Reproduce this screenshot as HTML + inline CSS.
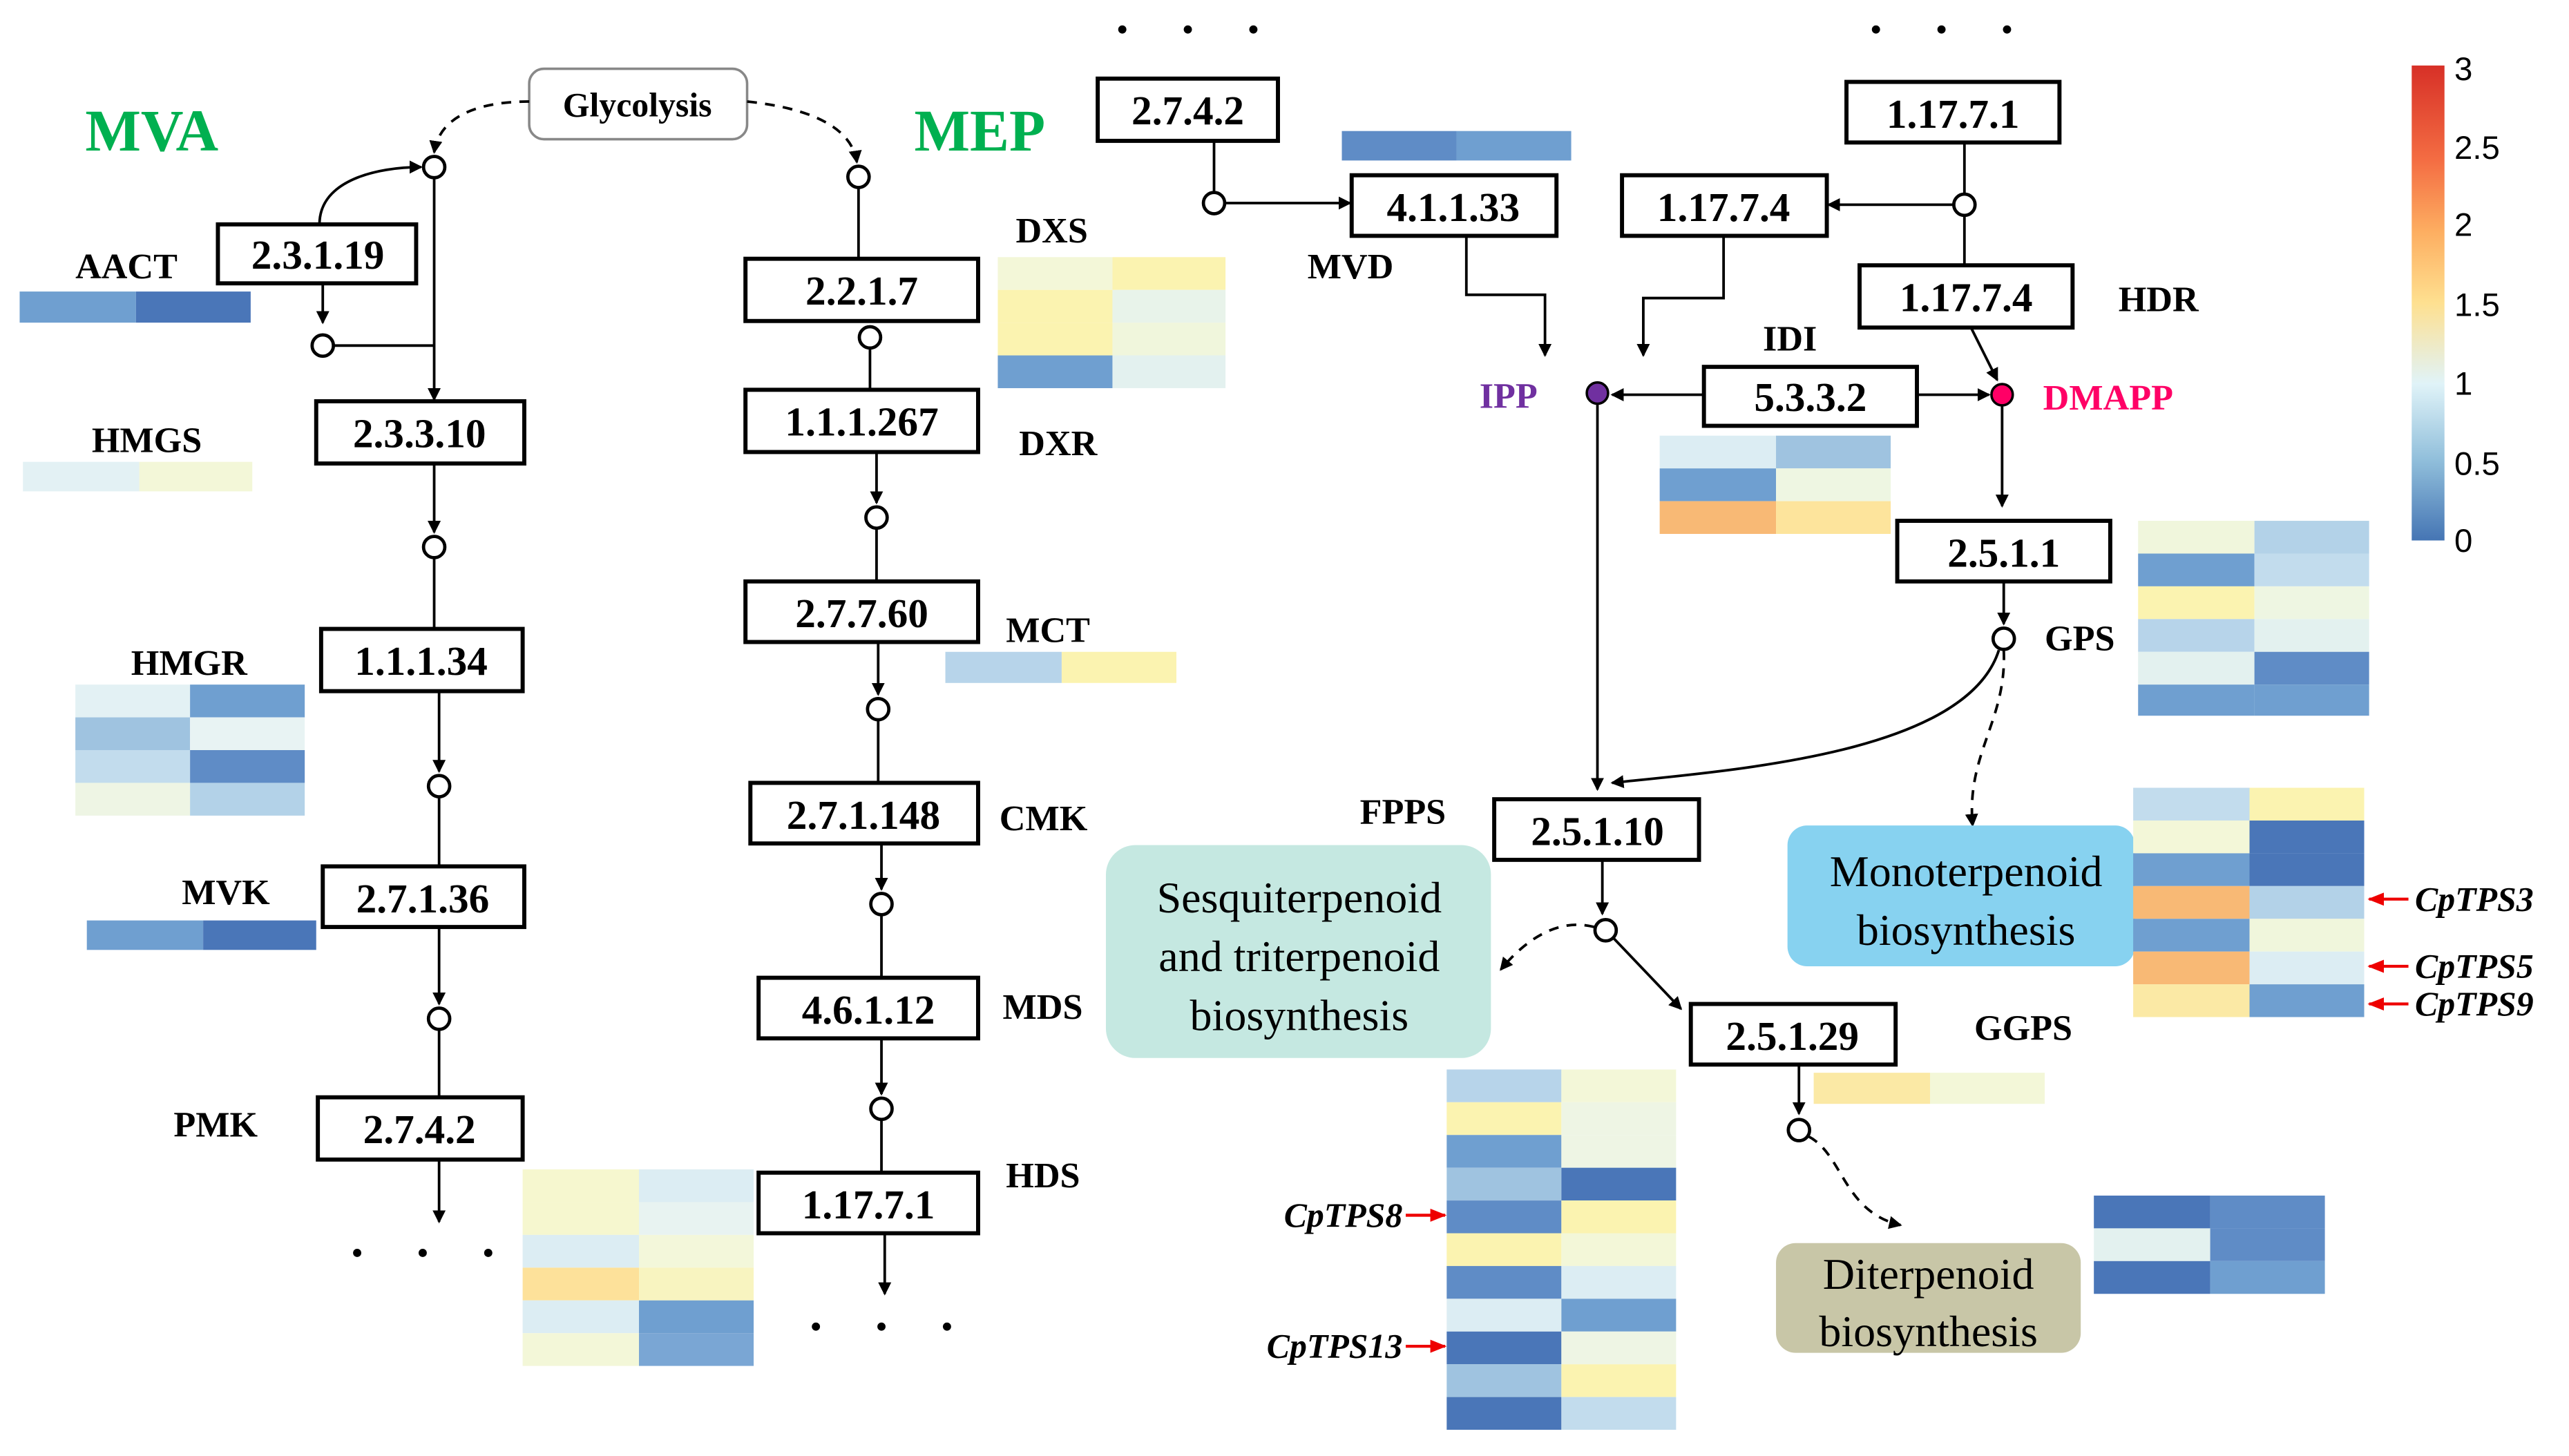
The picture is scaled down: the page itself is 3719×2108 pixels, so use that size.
<!DOCTYPE html>
<html><head><meta charset="utf-8"><style>
html,body{margin:0;padding:0;background:#fff}
svg{display:block}
text{font-family:"Liberation Serif",serif}
.b{fill:#fff;stroke:#000;stroke-width:2.5}
.bt{font-size:25px;font-weight:bold;text-anchor:middle}
.lb{font-size:22px;font-weight:bold}
.ln{stroke:#000;stroke-width:1.6;fill:none}
.ds{stroke:#000;stroke-width:1.6;fill:none;stroke-dasharray:6 5}
.c{fill:#fff;stroke:#000;stroke-width:2}
.tp{font-size:21px;font-weight:bold;font-style:italic}
.big{font-size:27px;text-anchor:middle}
</style></head><body>
<svg width="3719" height="2108" viewBox="0 0 1568 889" preserveAspectRatio="none" xmlns="http://www.w3.org/2000/svg">
<defs>
<marker id="a" markerWidth="8" markerHeight="8" refX="7" refY="4" orient="auto" markerUnits="userSpaceOnUse"><path d="M0,0 L8,4 L0,8 z" fill="#000"/></marker>
<marker id="r" markerWidth="10" markerHeight="8" refX="9" refY="4" orient="auto" markerUnits="userSpaceOnUse"><path d="M0,0 L10,4 L0,8 z" fill="#e00"/></marker>
<linearGradient id="g" x1="0" y1="0" x2="0" y2="1">
<stop offset="0" stop-color="#d73027"/><stop offset="0.2" stop-color="#f46d43"/><stop offset="0.35" stop-color="#fdae61"/><stop offset="0.5" stop-color="#fee090"/><stop offset="0.67" stop-color="#e0f3f8"/><stop offset="0.83" stop-color="#91bfdb"/><stop offset="1" stop-color="#4575b4"/></linearGradient>
</defs>
<text x="52" y="92" font-size="36" font-weight="bold" fill="#00b050">MVA</text>
<text x="558" y="92" font-size="36" font-weight="bold" fill="#00b050">MEP</text>
<rect x="323" y="42" width="133" height="43" rx="9" fill="#fff" stroke="#888" stroke-width="1.5"/>
<text x="389" y="71" font-size="21" font-weight="bold" text-anchor="middle">Glycolysis</text>
<path class="ds" d="M323,62 C290,62 268,72 265,93" marker-end="url(#a)"/>
<path class="ds" d="M456,62 C495,66 520,78 523,99" marker-end="url(#a)"/>

<circle class="c" cx="265" cy="102" r="6.5"/>
<path class="ln" d="M195,137 C195,110 230,102 257,102" marker-end="url(#a)"/>
<rect class="b" x="133" y="137" width="121" height="36"/><text class="bt" x="194" y="164">2.3.1.19</text>
<path class="ln" d="M197,173 L197,197" marker-end="url(#a)"/>
<circle class="c" cx="197" cy="211" r="6.5"/>
<path class="ln" d="M204,211 L265,211"/>
<path class="ln" d="M265,109 L265,244" marker-end="url(#a)"/>
<text class="lb" x="46" y="170">AACT</text>
<rect x="12" y="178" width="71" height="19" fill="#6f9fd0"/><rect x="83" y="178" width="70" height="19" fill="#4a76b8"/>
<rect class="b" x="193" y="245" width="127" height="38"/><text class="bt" x="256" y="273">2.3.3.10</text>
<text class="lb" x="56" y="276">HMGS</text>
<rect x="14" y="282" width="71" height="18" fill="#e3f1f4"/><rect x="85" y="282" width="69" height="18" fill="#f3f7d8"/>
<path class="ln" d="M265,283 L265,325" marker-end="url(#a)"/>
<circle class="c" cx="265" cy="334" r="6.5"/>
<path class="ln" d="M265,341 L265,384"/>
<rect class="b" x="196" y="384" width="123" height="38"/><text class="bt" x="257" y="412">1.1.1.34</text>
<text class="lb" x="80" y="412">HMGR</text>
<g>
<rect x="46" y="418" width="70" height="20" fill="#e3f1f4"/><rect x="116" y="418" width="70" height="20" fill="#6f9fd0"/>
<rect x="46" y="438" width="70" height="20" fill="#9fc3e0"/><rect x="116" y="438" width="70" height="20" fill="#e8f3f3"/>
<rect x="46" y="458" width="70" height="20" fill="#c2dced"/><rect x="116" y="458" width="70" height="20" fill="#5f8cc6"/>
<rect x="46" y="478" width="70" height="20" fill="#eef5e4"/><rect x="116" y="478" width="70" height="20" fill="#b3d2e8"/>
</g>
<path class="ln" d="M268,422 L268,471" marker-end="url(#a)"/>
<circle class="c" cx="268" cy="480" r="6.5"/>
<path class="ln" d="M268,487 L268,529"/>
<rect class="b" x="197" y="529" width="123" height="37"/><text class="bt" x="258" y="557">2.7.1.36</text>
<text class="lb" x="111" y="552">MVK</text>
<rect x="53" y="562" width="71" height="18" fill="#6f9fd0"/><rect x="124" y="562" width="69" height="18" fill="#4a76b8"/>
<path class="ln" d="M268,566 L268,613" marker-end="url(#a)"/>
<circle class="c" cx="268" cy="622" r="6.5"/>
<path class="ln" d="M268,629 L268,670"/>
<rect class="b" x="194" y="670" width="125" height="38"/><text class="bt" x="256" y="698">2.7.4.2</text>
<text class="lb" x="106" y="694">PMK</text>
<path class="ln" d="M268,708 L268,746" marker-end="url(#a)"/>
<g fill="#000"><circle cx="218" cy="765" r="2.5"/><circle cx="258" cy="765" r="2.5"/><circle cx="298" cy="765" r="2.5"/></g>
<g>
<rect x="319" y="714" width="71" height="20" fill="#f6f7cf"/><rect x="390" y="714" width="70" height="20" fill="#dcedf3"/>
<rect x="319" y="734" width="71" height="20" fill="#f6f7cf"/><rect x="390" y="734" width="70" height="20" fill="#e8f3f1"/>
<rect x="319" y="754" width="71" height="20" fill="#dcedf3"/><rect x="390" y="754" width="70" height="20" fill="#f3f7da"/>
<rect x="319" y="774" width="71" height="20" fill="#fde19a"/><rect x="390" y="774" width="70" height="20" fill="#f8f4c0"/>
<rect x="319" y="794" width="71" height="20" fill="#dcedf3"/><rect x="390" y="794" width="70" height="20" fill="#6f9fd0"/>
<rect x="319" y="814" width="71" height="20" fill="#f3f7d8"/><rect x="390" y="814" width="70" height="20" fill="#7aa6d4"/>
</g>

<circle class="c" cx="524" cy="108" r="6.5"/>
<path class="ln" d="M524,115 L524,158"/>
<rect class="b" x="455" y="158" width="142" height="38"/><text class="bt" x="526" y="186">2.2.1.7</text>
<circle class="c" cx="531" cy="206" r="6.5"/>
<path class="ln" d="M531,213 L531,238"/>
<rect class="b" x="455" y="238" width="142" height="38"/><text class="bt" x="526" y="266">1.1.1.267</text>
<text class="lb" x="620" y="148">DXS</text>
<g>
<rect x="609" y="157" width="70" height="20" fill="#f3f7d8"/><rect x="679" y="157" width="69" height="20" fill="#fbf3b0"/>
<rect x="609" y="177" width="70" height="20" fill="#fbf3b0"/><rect x="679" y="177" width="69" height="20" fill="#e8f3ea"/>
<rect x="609" y="197" width="70" height="20" fill="#fbf3b0"/><rect x="679" y="197" width="69" height="20" fill="#f0f6dc"/>
<rect x="609" y="217" width="70" height="20" fill="#6f9fd0"/><rect x="679" y="217" width="69" height="20" fill="#e3f1ef"/>
</g>
<text class="lb" x="622" y="278">DXR</text>
<path class="ln" d="M535,276 L535,307" marker-end="url(#a)"/>
<circle class="c" cx="535" cy="316" r="6.5"/>
<path class="ln" d="M535,323 L535,355"/>
<rect class="b" x="455" y="355" width="142" height="37"/><text class="bt" x="526" y="383">2.7.7.60</text>
<text class="lb" x="614" y="392">MCT</text>
<rect x="577" y="398" width="71" height="19" fill="#b7d4ea"/><rect x="648" y="398" width="70" height="19" fill="#fbf3b0"/>
<path class="ln" d="M536,392 L536,424" marker-end="url(#a)"/>
<circle class="c" cx="536" cy="433" r="6.5"/>
<path class="ln" d="M536,440 L536,478"/>
<rect class="b" x="458" y="478" width="139" height="37"/><text class="bt" x="527" y="506">2.7.1.148</text>
<text class="lb" x="610" y="507">CMK</text>
<path class="ln" d="M538,515 L538,543" marker-end="url(#a)"/>
<circle class="c" cx="538" cy="552" r="6.5"/>
<path class="ln" d="M538,559 L538,597"/>
<rect class="b" x="463" y="597" width="134" height="37"/><text class="bt" x="530" y="625">4.6.1.12</text>
<text class="lb" x="612" y="622">MDS</text>
<path class="ln" d="M538,634 L538,668" marker-end="url(#a)"/>
<circle class="c" cx="538" cy="677" r="6.5"/>
<path class="ln" d="M538,684 L538,716"/>
<rect class="b" x="463" y="716" width="134" height="37"/><text class="bt" x="530" y="744">1.17.7.1</text>
<text class="lb" x="614" y="725">HDS</text>
<path class="ln" d="M540,753 L540,790" marker-end="url(#a)"/>
<g fill="#000"><circle cx="498" cy="810" r="2.5"/><circle cx="538" cy="810" r="2.5"/><circle cx="578" cy="810" r="2.5"/></g>

<g fill="#000"><circle cx="685" cy="18" r="2.5"/><circle cx="725" cy="18" r="2.5"/><circle cx="765" cy="18" r="2.5"/></g>
<rect class="b" x="670" y="48" width="110" height="38"/><text class="bt" x="725" y="76">2.7.4.2</text>
<path class="ln" d="M741,86 L741,117"/>
<circle class="c" cx="741" cy="124" r="6.5"/>
<path class="ln" d="M748,124 L824,124" marker-end="url(#a)"/>
<rect x="819" y="80" width="70" height="18" fill="#5f8cc6"/><rect x="889" y="80" width="70" height="18" fill="#6f9fd0"/>
<rect class="b" x="825" y="107" width="125" height="37"/><text class="bt" x="887" y="135">4.1.1.33</text>
<text class="lb" x="798" y="170">MVD</text>
<path class="ln" d="M895,144 L895,180 L943,180 L943,217" marker-end="url(#a)"/>

<g fill="#000"><circle cx="1145" cy="18" r="2.5"/><circle cx="1185" cy="18" r="2.5"/><circle cx="1225" cy="18" r="2.5"/></g>
<rect class="b" x="1127" y="50" width="130" height="37"/><text class="bt" x="1192" y="78">1.17.7.1</text>
<path class="ln" d="M1199,87 L1199,118"/>
<circle class="c" cx="1199" cy="125" r="6.5"/>
<path class="ln" d="M1192,125 L1116,125" marker-end="url(#a)"/>
<rect class="b" x="990" y="107" width="125" height="37"/><text class="bt" x="1052" y="135">1.17.7.4</text>
<path class="ln" d="M1052,144 L1052,182 L1003,182 L1003,217" marker-end="url(#a)"/>
<path class="ln" d="M1199,132 L1199,162"/>
<rect class="b" x="1135" y="162" width="130" height="38"/><text class="bt" x="1200" y="190">1.17.7.4</text>
<text class="lb" x="1293" y="190">HDR</text>
<path class="ln" d="M1203,200 L1219,232" marker-end="url(#a)"/>
<text class="lb" x="1076" y="214">IDI</text>
<rect class="b" x="1040" y="224" width="130" height="36"/><text class="bt" x="1105" y="251">5.3.3.2</text>
<path class="ln" d="M1040,241 L984,241" marker-end="url(#a)"/>
<path class="ln" d="M1170,241 L1214,241" marker-end="url(#a)"/>
<circle cx="975" cy="240" r="6.5" fill="#7030a0" stroke="#000" stroke-width="1.5"/>
<circle cx="1222" cy="241" r="6.5" fill="#ff0066" stroke="#000" stroke-width="1.5"/>
<text x="903" y="249" font-size="22" font-weight="bold" fill="#7030a0">IPP</text>
<text x="1247" y="250" font-size="22" font-weight="bold" fill="#ff0066">DMAPP</text>
<g>
<rect x="1013" y="266" width="71" height="20" fill="#dcedf3"/><rect x="1084" y="266" width="70" height="20" fill="#9fc3e0"/>
<rect x="1013" y="286" width="71" height="20" fill="#6f9fd0"/><rect x="1084" y="286" width="70" height="20" fill="#eef6e2"/>
<rect x="1013" y="306" width="71" height="20" fill="#f8b975"/><rect x="1084" y="306" width="70" height="20" fill="#fde49c"/>
</g>
<path class="ln" d="M1222,248 L1222,309" marker-end="url(#a)"/>
<rect class="b" x="1158" y="318" width="130" height="37"/><text class="bt" x="1223" y="346">2.5.1.1</text>
<g>
<rect x="1305" y="318" width="71" height="20" fill="#f0f6dc"/><rect x="1376" y="318" width="70" height="20" fill="#b3d2e8"/>
<rect x="1305" y="338" width="71" height="20" fill="#6f9fd0"/><rect x="1376" y="338" width="70" height="20" fill="#c2dced"/>
<rect x="1305" y="358" width="71" height="20" fill="#fbf3b0"/><rect x="1376" y="358" width="70" height="20" fill="#eef6e2"/>
<rect x="1305" y="378" width="71" height="20" fill="#b7d4ea"/><rect x="1376" y="378" width="70" height="20" fill="#e3f1ef"/>
<rect x="1305" y="398" width="71" height="20" fill="#e3f1ef"/><rect x="1376" y="398" width="70" height="20" fill="#5f8cc6"/>
<rect x="1305" y="418" width="71" height="19" fill="#6f9fd0"/><rect x="1376" y="418" width="70" height="19" fill="#6f9fd0"/>
</g>
<path class="ln" d="M1223,355 L1223,381" marker-end="url(#a)"/>
<circle class="c" cx="1223" cy="390" r="6.5"/>
<text class="lb" x="1248" y="397">GPS</text>
<path class="ln" d="M1220,397 C1200,460 1060,470 984,478" marker-end="url(#a)"/>
<path class="ds" d="M1223,397 C1225,440 1200,460 1204,504" marker-end="url(#a)"/>
<path class="ln" d="M975,247 L975,482" marker-end="url(#a)"/>
<rect class="b" x="912" y="488" width="125" height="37"/><text class="bt" x="975" y="516">2.5.1.10</text>
<text class="lb" x="830" y="503">FPPS</text>
<path class="ln" d="M978,525 L978,558" marker-end="url(#a)"/>
<circle class="c" cx="980" cy="568" r="6.5"/>
<path class="ds" d="M973,566 C950,560 930,575 916,592" marker-end="url(#a)"/>
<path class="ln" d="M985,573 L1026,616" marker-end="url(#a)"/>
<rect class="b" x="1032" y="613" width="125" height="37"/><text class="bt" x="1094" y="641">2.5.1.29</text>
<text class="lb" x="1205" y="635">GGPS</text>
<rect x="1107" y="655" width="71" height="19" fill="#fbe9a5"/><rect x="1178" y="655" width="70" height="19" fill="#f3f7d8"/>
<path class="ln" d="M1098,650 L1098,680" marker-end="url(#a)"/>
<circle class="c" cx="1098" cy="690" r="6.5"/>
<path class="ds" d="M1104,694 C1125,705 1125,740 1160,748" marker-end="url(#a)"/>

<rect x="675" y="516" width="235" height="130" rx="18" fill="#c5e8e1"/>
<text class="big" x="793" y="557">Sesquiterpenoid</text>
<text class="big" x="793" y="593">and triterpenoid</text>
<text class="big" x="793" y="629">biosynthesis</text>
<rect x="1091" y="504" width="212" height="86" rx="12" fill="#87d2f0"/>
<text class="big" x="1200" y="541">Monoterpenoid</text>
<text class="big" x="1200" y="577">biosynthesis</text>
<rect x="1084" y="759" width="186" height="67" rx="12" fill="#c8c6a7"/>
<text class="big" x="1177" y="787">Diterpenoid</text>
<text class="big" x="1177" y="822">biosynthesis</text>

<g>
<rect x="1302" y="481" width="71" height="20" fill="#c2dced"/><rect x="1373" y="481" width="70" height="20" fill="#fbf3b0"/>
<rect x="1302" y="501" width="71" height="20" fill="#f3f7d8"/><rect x="1373" y="501" width="70" height="20" fill="#4a76b8"/>
<rect x="1302" y="521" width="71" height="20" fill="#6f9fd0"/><rect x="1373" y="521" width="70" height="20" fill="#4a76b8"/>
<rect x="1302" y="541" width="71" height="20" fill="#f8b975"/><rect x="1373" y="541" width="70" height="20" fill="#b3d2e8"/>
<rect x="1302" y="561" width="71" height="20" fill="#6f9fd0"/><rect x="1373" y="561" width="70" height="20" fill="#f0f6dc"/>
<rect x="1302" y="581" width="71" height="20" fill="#f8b975"/><rect x="1373" y="581" width="70" height="20" fill="#dcedf3"/>
<rect x="1302" y="601" width="71" height="20" fill="#fbe9a5"/><rect x="1373" y="601" width="70" height="20" fill="#6f9fd0"/>
</g>
<path d="M1470,549 L1446,549" stroke="#e00" stroke-width="1.8" marker-end="url(#r)"/>
<path d="M1470,590 L1446,590" stroke="#e00" stroke-width="1.8" marker-end="url(#r)"/>
<path d="M1470,613 L1446,613" stroke="#e00" stroke-width="1.8" marker-end="url(#r)"/>
<text class="tp" x="1474" y="556">CpTPS3</text>
<text class="tp" x="1474" y="597">CpTPS5</text>
<text class="tp" x="1474" y="620">CpTPS9</text>

<g>
<rect x="883" y="653" width="70" height="20" fill="#b7d4ea"/><rect x="953" y="653" width="70" height="20" fill="#f3f7d8"/>
<rect x="883" y="673" width="70" height="20" fill="#fbf3b0"/><rect x="953" y="673" width="70" height="20" fill="#eef5e4"/>
<rect x="883" y="693" width="70" height="20" fill="#6f9fd0"/><rect x="953" y="693" width="70" height="20" fill="#eef5e4"/>
<rect x="883" y="713" width="70" height="20" fill="#9fc3e0"/><rect x="953" y="713" width="70" height="20" fill="#4a76b8"/>
<rect x="883" y="733" width="70" height="20" fill="#5f8cc6"/><rect x="953" y="733" width="70" height="20" fill="#fbf3b0"/>
<rect x="883" y="753" width="70" height="20" fill="#fbf3b0"/><rect x="953" y="753" width="70" height="20" fill="#f3f7d8"/>
<rect x="883" y="773" width="70" height="20" fill="#5f8cc6"/><rect x="953" y="773" width="70" height="20" fill="#dcedf3"/>
<rect x="883" y="793" width="70" height="20" fill="#dcedf3"/><rect x="953" y="793" width="70" height="20" fill="#6f9fd0"/>
<rect x="883" y="813" width="70" height="20" fill="#4a76b8"/><rect x="953" y="813" width="70" height="20" fill="#eef5e4"/>
<rect x="883" y="833" width="70" height="20" fill="#9fc3e0"/><rect x="953" y="833" width="70" height="20" fill="#fbf3b0"/>
<rect x="883" y="853" width="70" height="20" fill="#4a76b8"/><rect x="953" y="853" width="70" height="20" fill="#c2dced"/>
</g>
<path d="M858,742 L882,742" stroke="#e00" stroke-width="1.8" marker-end="url(#r)"/>
<path d="M858,822 L882,822" stroke="#e00" stroke-width="1.8" marker-end="url(#r)"/>
<text class="tp" x="856" y="749" text-anchor="end">CpTPS8</text>
<text class="tp" x="856" y="829" text-anchor="end">CpTPS13</text>

<g>
<rect x="1278" y="730" width="71" height="20" fill="#4a76b8"/><rect x="1349" y="730" width="70" height="20" fill="#5f8cc6"/>
<rect x="1278" y="750" width="71" height="20" fill="#e3f1ef"/><rect x="1349" y="750" width="70" height="20" fill="#5f8cc6"/>
<rect x="1278" y="770" width="71" height="20" fill="#4a76b8"/><rect x="1349" y="770" width="70" height="20" fill="#6f9fd0"/>
</g>

<rect x="1472" y="40" width="20" height="290" fill="url(#g)"/>
<g font-size="20">
<text x="1498" y="49" style="font-family:'Liberation Sans',sans-serif">3</text>
<text x="1498" y="97" style="font-family:'Liberation Sans',sans-serif">2.5</text>
<text x="1498" y="144" style="font-family:'Liberation Sans',sans-serif">2</text>
<text x="1498" y="193" style="font-family:'Liberation Sans',sans-serif">1.5</text>
<text x="1498" y="241" style="font-family:'Liberation Sans',sans-serif">1</text>
<text x="1498" y="290" style="font-family:'Liberation Sans',sans-serif">0.5</text>
<text x="1498" y="337" style="font-family:'Liberation Sans',sans-serif">0</text>
</g>
</svg>
</body></html>
